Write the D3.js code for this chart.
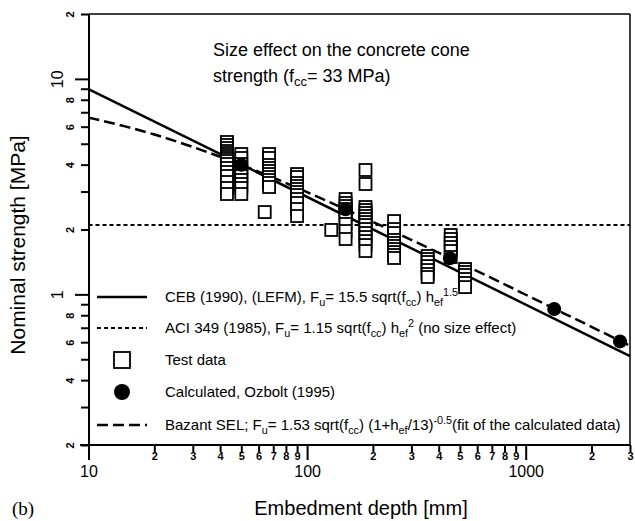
<!DOCTYPE html>
<html>
<head>
<meta charset="utf-8">
<script src="https://cdn.jsdelivr.net/npm/d3@7"></script>
<style>
  body { margin: 0; background: #fff; }
  svg { font-family: "Liberation Sans", Arial, sans-serif; }
  .axis path, .axis line { stroke: #000; stroke-width: 2; }
  .axis .domain { display: none; }
</style>
</head>
<body>
<svg width="635" height="521"></svg>
<script>
// embedment depth [mm] and nominal strength [MPa]
var testDepth = [43, 50, 64, 67, 90, 129, 150, 185, 250, 356, 454, 528];
var testStrength = [
  [5.095, 4.933, 4.777, 4.627, 4.529, 4.434, 4.34, 4.249, 4.158, 4.027, 3.858, 3.697, 3.542, 3.322, 3.116, 2.922],
  [4.481, 4.294, 4.027, 3.858, 3.697, 3.542, 3.394, 3.252, 3.116, 2.922],
  [2.41],
  [4.481, 4.294, 3.984, 3.858, 3.737, 3.618, 3.504, 3.394, 3.287, 3.149],
  [3.618, 3.504, 3.287, 3.183, 3.083, 2.985, 2.891, 2.77, 2.654, 2.489, 2.31],
  [1.99],
  [2.77, 2.654, 2.57, 2.489, 2.411, 2.335, 2.261, 2.121, 1.968, 1.807],
  [3.777, 3.252, 2.543, 2.463, 2.385, 2.31, 2.237, 2.166, 2.098, 2.01, 1.926, 1.845, 1.768, 1.694, 1.589],
  [2.189, 2.01, 1.926, 1.788, 1.731, 1.677, 1.623, 1.572, 1.523, 1.475],
  [1.507, 1.459, 1.413, 1.353, 1.297, 1.243, 1.204],
  [1.886, 1.807, 1.731, 1.659, 1.589, 1.491],
  [1.311, 1.27, 1.23, 1.178, 1.129, 1.081]
];

var calcDepth = [50, 150, 450, 1350, 2700];
var calcStrength = [3.99, 2.48, 1.47, 0.855, 0.605];

var cebDepth = [10, 3000];
var cebStrength = [8.96, 0.517];

var aciDepth = [10, 3000];
var aciStrength = [2.1, 2.1];

var bazantDepth = [10, 15, 20, 30, 40, 50, 70, 100, 150, 200, 300, 500, 700, 1000, 1500, 2000, 3000];
var bazantStrength = [6.61, 5.99, 5.52, 4.83, 4.35, 3.99, 3.48, 2.98, 2.48, 2.17, 1.79, 1.40, 1.19, 0.996, 0.815, 0.707, 0.577];

var xMajor = [10, 100, 1000],
  xMinor = [20, 30, 40, 50, 60, 70, 80, 90, 200, 300, 400, 500, 600, 700, 800, 900, 2000, 3000];
var yMajor = [1, 10],
  yMinor = [0.2, 0.3, 0.4, 0.5, 0.6, 0.7, 0.8, 0.9, 2, 3, 4, 5, 6, 7, 8, 9, 20];
var yMinorLabels = {0.2: "2", 0.4: "4", 0.6: "6", 0.8: "8", 2: "2", 4: "4", 6: "6", 8: "8", 20: "2"};

var svg = d3.select("svg");

var x = d3.scaleLog().domain([10, 3000]).range([88.5, 630]),
  y = d3.scaleLog().domain([0.2, 20]).range([445, 14]);

function lead(d) { return Math.round(d / Math.pow(10, Math.floor(Math.log10(d) + 1e-9))); }

// axes
svg.append("g").attr("class", "axis")
  .attr("transform", "translate(0,445)")
  .call(d3.axisBottom(x).tickValues(xMinor).tickSize(7).tickFormat(function(d) { return lead(d); }))
  .selectAll("text")
  .attr("y", 15).attr("dy", null)
  .style("font-size", "11px").style("font-weight", "bold");

svg.append("g").attr("class", "axis")
  .attr("transform", "translate(0,445)")
  .call(d3.axisBottom(x).tickValues(xMajor).tickSize(15).tickFormat(d3.format("d")))
  .selectAll("text")
  .attr("y", 32).attr("dy", null)
  .style("font-size", "16px");

svg.append("g").attr("class", "axis")
  .attr("transform", "translate(89,0)")
  .call(d3.axisLeft(y).tickValues(yMinor).tickSize(8).tickFormat(function(d) { return yMinorLabels[d] || ""; }))
  .selectAll("text")
  .attr("x", null).attr("dy", null)
  .attr("text-anchor", "middle")
  .attr("transform", "translate(-15,0) rotate(-90)")
  .style("font-size", "11px").style("font-weight", "bold");

svg.append("g").attr("class", "axis")
  .attr("transform", "translate(89,0)")
  .call(d3.axisLeft(y).tickValues(yMajor).tickSize(14).tickFormat(d3.format("d")))
  .selectAll("text")
  .attr("x", null).attr("dy", null)
  .attr("text-anchor", "middle")
  .attr("transform", "translate(-26,0) rotate(-90)")
  .style("font-size", "16px");

// frame
svg.append("line").attr("x1", 89).attr("x2", 89).attr("y1", 14).attr("y2", 460)
  .attr("stroke", "#000").attr("stroke-width", 2);
svg.append("line").attr("x1", 80).attr("x2", 630).attr("y1", 445).attr("y2", 445)
  .attr("stroke", "#000").attr("stroke-width", 2);
svg.append("line").attr("x1", 89).attr("x2", 630).attr("y1", 14).attr("y2", 14)
  .attr("stroke", "#000").attr("stroke-width", 1.5);
svg.append("line").attr("x1", 630).attr("x2", 630).attr("y1", 14).attr("y2", 445)
  .attr("stroke", "#000").attr("stroke-width", 1.5);

var line = d3.line()
  .x(function(d) { return x(d[0]); })
  .y(function(d) { return y(d[1]); });

svg.append("path")
  .attr("d", line(d3.zip(aciDepth, aciStrength)))
  .attr("fill", "none").attr("stroke", "#000")
  .attr("stroke-width", 2).attr("stroke-dasharray", "4,3");

svg.append("path")
  .attr("d", line(d3.zip(cebDepth, cebStrength)))
  .attr("fill", "none").attr("stroke", "#000").attr("stroke-width", 2.5);

svg.append("path")
  .attr("d", line.curve(d3.curveMonotoneX)(d3.zip(bazantDepth, bazantStrength)))
  .attr("fill", "none").attr("stroke", "#000")
  .attr("stroke-width", 2.5).attr("stroke-dasharray", "11,5");

// test data
var tests = [];
testDepth.forEach(function(h, i) {
  testStrength[i].forEach(function(v) { tests.push([h, v]); });
});

svg.selectAll(".test")
  .data(tests)
  .enter().append("rect")
  .attr("class", "test")
  .attr("x", function(d) { return x(d[0]) - 6; })
  .attr("y", function(d) { return y(d[1]) - 6; })
  .attr("width", 12).attr("height", 12)
  .attr("fill", "#fff").attr("stroke", "#000").attr("stroke-width", 1.8);

svg.selectAll(".calc")
  .data(d3.zip(calcDepth, calcStrength))
  .enter().append("circle")
  .attr("class", "calc")
  .attr("cx", function(d) { return x(d[0]); })
  .attr("cy", function(d) { return y(d[1]); })
  .attr("r", 7)
  .attr("fill", "#000");

// text with sub/superscripts
function rich(sel, parts) {
  var shift = 0;
  parts.forEach(function(p) {
    var t = sel.append("tspan").text(p[0]);
    var want = p[1] == "sub" ? 4 : p[1] == "sup" ? -6 : 0;
    if (want != shift) t.attr("dy", want - shift);
    shift = want;
    if (p[1]) t.style("font-size", "72%");
  });
}

svg.append("text").attr("x", 213).attr("y", 56).style("font-size", "18px")
  .text("Size effect on the concrete cone");
rich(svg.append("text").attr("x", 213).attr("y", 82).style("font-size", "18px"),
  [["strength (f"], ["cc", "sub"], ["= 33 MPa)"]]);

// legend
var legendY = [297, 328, 360, 392, 425];
var legendText = [
  [["CEB (1990), (LEFM), F"], ["u", "sub"], ["= 15.5 sqrt(f"], ["cc", "sub"], [") h"], ["ef", "sub"], ["1.5", "sup"]],
  [["ACI 349 (1985), F"], ["u", "sub"], ["= 1.15 sqrt(f"], ["cc", "sub"], [") h"], ["ef", "sub"], ["2", "sup"], [" (no size effect)"]],
  [["Test data"]],
  [["Calculated, Ozbolt (1995)"]],
  [["Bazant SEL; F"], ["u", "sub"], ["= 1.53 sqrt(f"], ["cc", "sub"], [") (1+h"], ["ef", "sub"], ["/13)"], ["-0.5", "sup"], ["(fit of the calculated data)"]]
];

var legend = svg.append("g");
legend.append("line").attr("x1", 97).attr("x2", 147).attr("y1", legendY[0]).attr("y2", legendY[0])
  .attr("stroke", "#000").attr("stroke-width", 2.5);
legend.append("line").attr("x1", 97).attr("x2", 147).attr("y1", legendY[1]).attr("y2", legendY[1])
  .attr("stroke", "#000").attr("stroke-width", 2).attr("stroke-dasharray", "4,3");
legend.append("rect").attr("x", 114).attr("y", legendY[2] - 8).attr("width", 16).attr("height", 16)
  .attr("fill", "#fff").attr("stroke", "#000").attr("stroke-width", 1.8);
legend.append("circle").attr("cx", 122).attr("cy", legendY[3]).attr("r", 8).attr("fill", "#000");
legend.append("line").attr("x1", 97).attr("x2", 147).attr("y1", legendY[4]).attr("y2", legendY[4])
  .attr("stroke", "#000").attr("stroke-width", 2.5).attr("stroke-dasharray", "11,5");

legendText.forEach(function(parts, i) {
  rich(legend.append("text").attr("x", 165).attr("y", legendY[i] + 5).style("font-size", "15px"), parts);
});

// axis titles
svg.append("text")
  .attr("transform", "translate(25,245) rotate(-90)")
  .attr("text-anchor", "middle")
  .style("font-size", "21px")
  .text("Nominal strength [MPa]");

svg.append("text")
  .attr("x", 361).attr("y", 515)
  .attr("text-anchor", "middle")
  .style("font-size", "20px")
  .text("Embedment depth [mm]");

svg.append("text")
  .attr("x", 12).attr("y", 515)
  .style("font-family", "'Liberation Serif', 'Times New Roman', serif")
  .style("font-size", "19px")
  .text("(b)");
</script>
</body>
</html>
